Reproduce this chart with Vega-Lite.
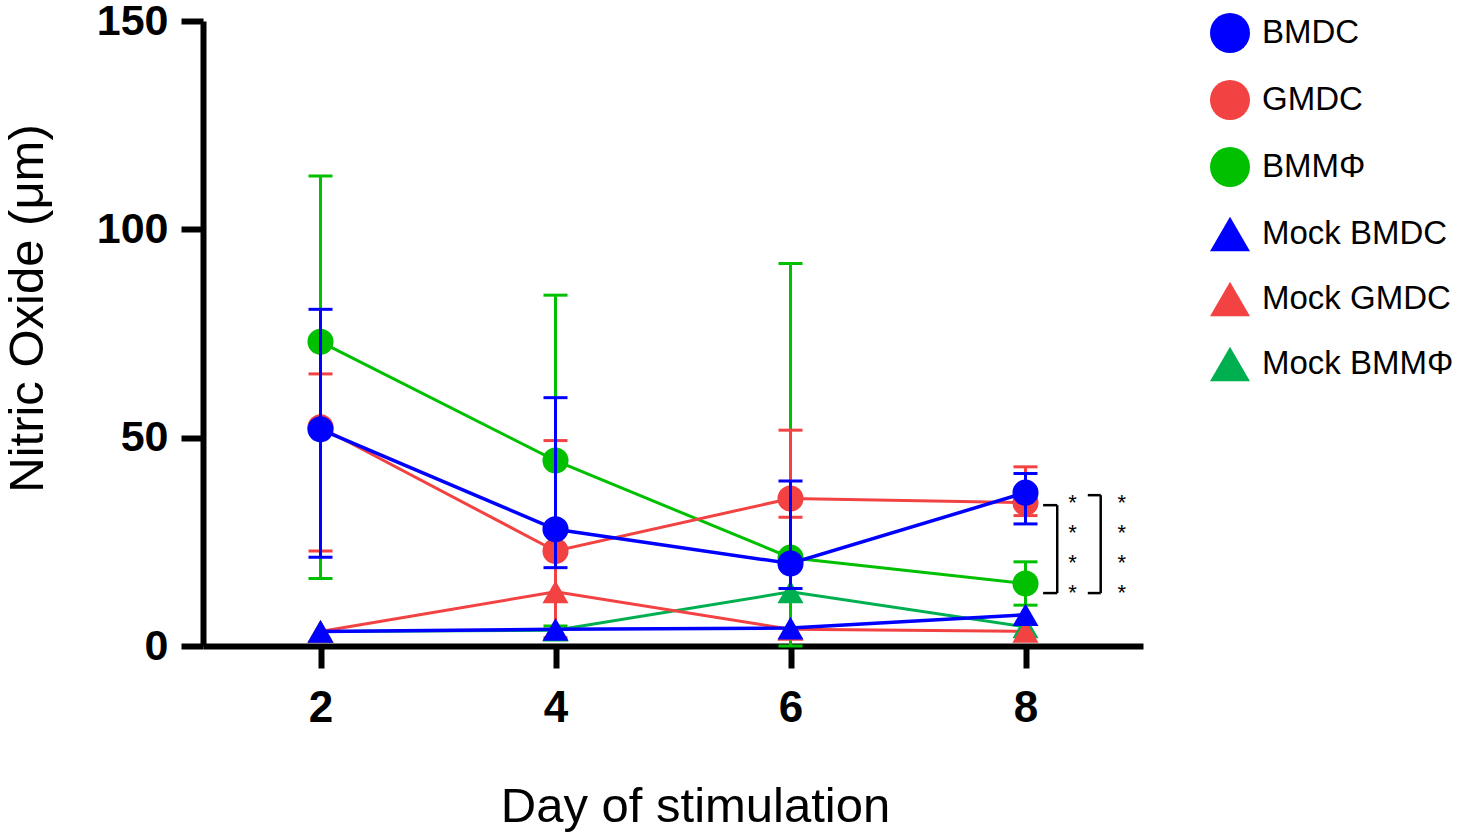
{
  "$schema": "https://vega.github.io/schema/vega-lite/v6.json",
  "width": 940,
  "height": 625,
  "autosize": {"type": "none"},
  "padding": {"left": 203, "top": 21, "right": 322, "bottom": 192},
  "background": "white",
  "config": {
    "view": {"stroke": null},
    "font": "Liberation Sans",
    "legend": {
      "orient": "none",
      "legendX": 1007,
      "legendY": -8,
      "labelFontSize": 33,
      "labelFont": "Liberation Sans",
      "labelColor": "black",
      "labelLimit": 400,
      "symbolSize": 1600,
      "symbolStrokeWidth": 0,
      "symbolOpacity": 1,
      "rowPadding": 27,
      "labelOffset": 12
    }
  },
  "datasets": {
    "groups": [
      {"series": "Mock BMMΦ", "day": 2, "mean": 3.5},
      {"series": "Mock BMMΦ", "day": 4, "mean": 3.8},
      {"series": "Mock BMMΦ", "day": 6, "mean": 13},
      {"series": "Mock BMMΦ", "day": 8, "mean": 4.6},
      {"series": "Mock GMDC", "day": 2, "mean": 3.5},
      {"series": "Mock GMDC", "day": 4, "mean": 13},
      {"series": "Mock GMDC", "day": 6, "mean": 4},
      {"series": "Mock GMDC", "day": 8, "mean": 3.5},
      {"series": "Mock BMDC", "day": 2, "mean": 3.5},
      {"series": "Mock BMDC", "day": 4, "mean": 4},
      {"series": "Mock BMDC", "day": 6, "mean": 4.3},
      {"series": "Mock BMDC", "day": 8, "mean": 7.5},
      {"series": "BMMΦ", "day": 2, "mean": 73, "lo": 16.2, "hi": 112.8},
      {"series": "BMMΦ", "day": 4, "mean": 44.5, "lo": 4.8, "hi": 84.2},
      {"series": "BMMΦ", "day": 6, "mean": 21.2, "lo": 0, "hi": 91.8},
      {"series": "BMMΦ", "day": 8, "mean": 15, "lo": 9.8, "hi": 20.2},
      {"series": "GMDC", "day": 2, "mean": 52.5, "lo": 22.8, "hi": 65.3},
      {"series": "GMDC", "day": 4, "mean": 22.8, "lo": 2, "hi": 49.3},
      {"series": "GMDC", "day": 6, "mean": 35.4, "lo": 30.9, "hi": 51.8},
      {"series": "GMDC", "day": 8, "mean": 34.4, "lo": 31.3, "hi": 43},
      {"series": "BMDC", "day": 2, "mean": 52, "lo": 21.3, "hi": 80.8},
      {"series": "BMDC", "day": 4, "mean": 28, "lo": 18.8, "hi": 59.6},
      {"series": "BMDC", "day": 6, "mean": 19.8, "lo": 13.8, "hi": 39.6},
      {"series": "BMDC", "day": 8, "mean": 36.8, "lo": 29.3, "hi": 41.4}
    ],
    "brackets": [
      {"x": 8.27, "x2": 8.27, "y": 12.7, "y2": 33.8},
      {"x": 8.15, "x2": 8.27, "y": 33.8, "y2": 33.8},
      {"x": 8.15, "x2": 8.27, "y": 12.7, "y2": 12.7},
      {"x": 8.64, "x2": 8.64, "y": 12.7, "y2": 36.2},
      {"x": 8.53, "x2": 8.64, "y": 36.2, "y2": 36.2},
      {"x": 8.53, "x2": 8.64, "y": 12.7, "y2": 12.7}
    ],
    "stars": [
      {"x": 8.4, "y": 35.0, "label": "*"},
      {"x": 8.4, "y": 27.8, "label": "*"},
      {"x": 8.4, "y": 20.6, "label": "*"},
      {"x": 8.4, "y": 13.4, "label": "*"},
      {"x": 8.82, "y": 35.0, "label": "*"},
      {"x": 8.82, "y": 27.8, "label": "*"},
      {"x": 8.82, "y": 20.6, "label": "*"},
      {"x": 8.82, "y": 13.4, "label": "*"}
    ]
  },
  "layer": [
    {
      "data": {"name": "groups"},
      "transform": [{"filter": "datum.series != 'BMDC' && datum.series != 'Mock BMDC'"}],
      "layer": [
        {
          "transform": [{"filter": "isValid(datum.lo)"}],
          "mark": {"type": "rule", "strokeWidth": 3},
          "encoding": {
            "x": {
              "field": "day", "type": "quantitative",
              "scale": {"domain": [1, 9], "nice": false, "zero": false},
              "axis": {
                "values": [2, 4, 6, 8],
                "format": "d",
                "title": "Day of stimulation",
                "titleFont": "Liberation Sans",
                "titleFontSize": 49,
                "titleFontWeight": "normal",
                "titleColor": "black",
                "titlePadding": 52,
                "titleX": 492,
                "labelFontSize": 44,
                "labelFontWeight": "bold",
                "labelColor": "black",
                "labelPadding": 18,
                "domainColor": "black",
                "domainWidth": 6,
                "tickColor": "black",
                "tickWidth": 6,
                "tickSize": 22,
                "grid": false
              }
            },
            "y": {
              "field": "lo", "type": "quantitative",
              "scale": {"domain": [0, 150], "nice": false},
              "axis": {
                "values": [0, 50, 100, 150],
                "title": "Nitric Oxide (μm)",
                "titleFont": "Liberation Sans",
                "titleFontSize": 49,
                "titleFontWeight": "normal",
                "titleColor": "black",
                "titlePadding": 44,
                "titleY": 287,
                "labelFontSize": 43,
                "labelFontWeight": "bold",
                "labelColor": "black",
                "labelPadding": 13,
                "domainColor": "black",
                "domainWidth": 6,
                "tickColor": "black",
                "tickWidth": 6,
                "tickSize": 22,
                "grid": false
              }
            },
            "y2": {"field": "hi"},
            "stroke": {
              "field": "series", "type": "nominal",
              "scale": {
                "domain": ["BMMΦ", "GMDC", "BMDC", "Mock BMMΦ", "Mock GMDC", "Mock BMDC"],
                "range": ["#00c000", "#f24242", "#0000ff", "#00b050", "#f24242", "#0000ff"]
              },
              "legend": null
            }
          }
        },
        {
          "transform": [{"filter": "isValid(datum.lo)"}],
          "mark": {"type": "rule", "strokeWidth": 3, "xOffset": -12, "x2Offset": 12},
          "encoding": {
            "x": {"field": "day", "type": "quantitative"},
            "x2": {"field": "day"},
            "y": {"field": "lo", "type": "quantitative"},
            "stroke": {"field": "series", "type": "nominal", "legend": null}
          }
        },
        {
          "transform": [{"filter": "isValid(datum.hi)"}],
          "mark": {"type": "rule", "strokeWidth": 3, "xOffset": -12, "x2Offset": 12},
          "encoding": {
            "x": {"field": "day", "type": "quantitative"},
            "x2": {"field": "day"},
            "y": {"field": "hi", "type": "quantitative"},
            "stroke": {"field": "series", "type": "nominal", "legend": null}
          }
        },
        {
          "mark": {"type": "line", "strokeWidth": 3},
          "encoding": {
            "x": {"field": "day", "type": "quantitative"},
            "y": {"field": "mean", "type": "quantitative"},
            "stroke": {"field": "series", "type": "nominal", "legend": null}
          }
        },
        {
          "mark": {"type": "point", "filled": true, "opacity": 1, "size": 680},
          "encoding": {
            "x": {"field": "day", "type": "quantitative"},
            "y": {"field": "mean", "type": "quantitative"},
            "fill": {
              "field": "series", "type": "nominal",
              "scale": {
                "domain": ["BMDC", "GMDC", "BMMΦ", "Mock BMDC", "Mock GMDC", "Mock BMMΦ"],
                "range": ["#0000ff", "#f24242", "#00c000", "#0000ff", "#f24242", "#00b050"]
              },
              "legend": {"title": null}
            },
            "shape": {
              "field": "series", "type": "nominal",
              "scale": {
                "domain": ["BMDC", "GMDC", "BMMΦ", "Mock BMDC", "Mock GMDC", "Mock BMMΦ"],
                "range": ["circle", "circle", "circle", "triangle-up", "triangle-up", "triangle-up"]
              },
              "legend": {"title": null}
            }
          }
        }
      ]
    },
    {
      "data": {"name": "groups"},
      "transform": [{"filter": "datum.series == 'BMDC' || datum.series == 'Mock BMDC'"}],
      "layer": [
        {
          "transform": [{"filter": "isValid(datum.lo)"}],
          "mark": {"type": "rule", "strokeWidth": 3},
          "encoding": {
            "x": {"field": "day", "type": "quantitative"},
            "y": {"field": "lo", "type": "quantitative"},
            "y2": {"field": "hi"},
            "stroke": {"field": "series", "type": "nominal", "legend": null}
          }
        },
        {
          "transform": [{"filter": "isValid(datum.lo)"}],
          "mark": {"type": "rule", "strokeWidth": 3, "xOffset": -12, "x2Offset": 12},
          "encoding": {
            "x": {"field": "day", "type": "quantitative"},
            "x2": {"field": "day"},
            "y": {"field": "lo", "type": "quantitative"},
            "stroke": {"field": "series", "type": "nominal", "legend": null}
          }
        },
        {
          "transform": [{"filter": "isValid(datum.hi)"}],
          "mark": {"type": "rule", "strokeWidth": 3, "xOffset": -12, "x2Offset": 12},
          "encoding": {
            "x": {"field": "day", "type": "quantitative"},
            "x2": {"field": "day"},
            "y": {"field": "hi", "type": "quantitative"},
            "stroke": {"field": "series", "type": "nominal", "legend": null}
          }
        },
        {
          "mark": {"type": "line", "strokeWidth": 3.5},
          "encoding": {
            "x": {"field": "day", "type": "quantitative"},
            "y": {"field": "mean", "type": "quantitative"},
            "stroke": {"field": "series", "type": "nominal", "legend": null}
          }
        },
        {
          "mark": {"type": "point", "filled": true, "opacity": 1, "size": 680},
          "encoding": {
            "x": {"field": "day", "type": "quantitative"},
            "y": {"field": "mean", "type": "quantitative"},
            "fill": {"field": "series", "type": "nominal", "legend": {"title": null}},
            "shape": {"field": "series", "type": "nominal", "legend": {"title": null}}
          }
        }
      ]
    },
    {
      "data": {"name": "brackets"},
      "mark": {"type": "rule", "color": "black", "strokeWidth": 2.5},
      "encoding": {
        "x": {"field": "x", "type": "quantitative"},
        "x2": {"field": "x2"},
        "y": {"field": "y", "type": "quantitative"},
        "y2": {"field": "y2"}
      }
    },
    {
      "data": {"name": "stars"},
      "mark": {"type": "text", "fontSize": 22, "color": "black", "baseline": "middle", "dy": 3},
      "encoding": {
        "x": {"field": "x", "type": "quantitative"},
        "y": {"field": "y", "type": "quantitative"},
        "text": {"field": "label"}
      }
    }
  ]
}
